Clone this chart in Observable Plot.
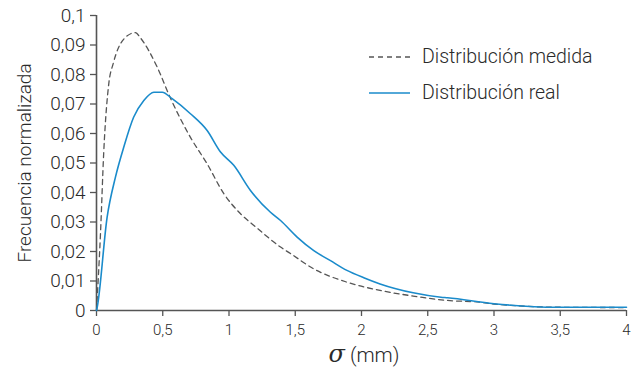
<!DOCTYPE html>
<html><head><meta charset="utf-8">
<script src="https://cdn.jsdelivr.net/npm/d3@7"></script>
<script src="https://cdn.jsdelivr.net/npm/@observablehq/plot@0.6"></script>
<style>
body{margin:0;background:#fff;}
#wrap{position:relative;width:632px;height:370px;font-family:Roboto,"Liberation Sans",sans-serif;}
#legend{position:absolute;left:368px;top:39px;font-size:19.5px;color:#2a2a2a;font-weight:300;line-height:36px;}
#legend div{display:flex;align-items:center;}
#legend svg{margin-right:12px;}
</style></head><body>
<div id="wrap"><div id="chart"></div>
<div id="legend">
<div><svg width="42" height="4"><line x1="1" y1="2" x2="42" y2="2" stroke="#555" stroke-width="1.3" stroke-dasharray="5,4"/></svg>Distribución medida</div>
<div><svg width="42" height="4"><line x1="1" y1="2" x2="42" y2="2" stroke="#1a8bcb" stroke-width="1.6"/></svg>Distribución real</div>
</div></div>
<script>
const measuredX = [0, 0.03, 0.055, 0.093, 0.126, 0.206, 0.294, 0.33, 0.458, 0.558, 0.709, 0.835, 0.961, 1.087, 1.21, 1.389, 1.464, 1.64, 1.89, 2.14, 2.39, 2.65, 2.9, 3.0, 3.5, 4.0];
const measuredY = [0, 0.026, 0.054, 0.077, 0.0837, 0.092, 0.0942, 0.0925, 0.0825, 0.072, 0.0587, 0.0497, 0.0396, 0.0328, 0.028, 0.0215, 0.0193, 0.0141, 0.0096, 0.0068, 0.0049, 0.0034, 0.0028, 0.0022, 0.0011, 0.001];
const realX = [0, 0.005, 0.08, 0.143, 0.206, 0.28, 0.357, 0.433, 0.496, 0.571, 0.709, 0.835, 0.936, 1.036, 1.162, 1.313, 1.389, 1.514, 1.64, 1.766, 1.89, 2.017, 2.14, 2.39, 2.6, 2.65, 3.0, 3.48, 4.0];
const realY = [0, 0.001, 0.0316, 0.0452, 0.0554, 0.0655, 0.0712, 0.074, 0.074, 0.0718, 0.0667, 0.061, 0.0537, 0.0492, 0.0407, 0.0333, 0.0305, 0.0249, 0.0203, 0.0169, 0.0136, 0.0111, 0.009, 0.006, 0.0045, 0.0043, 0.0023, 0.0011, 0.0011];
const xTicks = [0, 0.5, 1, 1.5, 2, 2.5, 3, 3.5, 4];
const yTicks = [0, 0.01, 0.02, 0.03, 0.04, 0.05, 0.06, 0.07, 0.08, 0.09, 0.1];
const yLabel = "Frecuencia normalizada";
const xLabelSymbol = "σ";
const xLabelUnit = " (mm)";

const measured = measuredX.map((x, i) => ({x, y: measuredY[i]}));
const real = realX.map((x, i) => ({x, y: realY[i]}));
const fmt = d => String(+d.toFixed(3)).replace(".", ",");
const axisColor = "#555";

const plot = Plot.plot({
  width: 632, height: 370,
  marginLeft: 96, marginRight: 6, marginTop: 15, marginBottom: 60,
  style: {fontFamily: "Roboto, 'Liberation Sans', sans-serif", fontSize: "15px", color: "#2a2a2a", fontWeight: 300},
  x: {domain: [0, 4]},
  y: {domain: [0, 0.1]},
  marks: [
    Plot.axisY({ticks: yTicks, tickFormat: fmt, tickSize: 6, tickPadding: 5, stroke: axisColor, strokeWidth: 1.3,
      label: yLabel, labelAnchor: "center", labelArrow: "none", labelOffset: 79, fontSize: 19}),
    Plot.axisX({ticks: xTicks, tickFormat: fmt, tickSize: 6, tickPadding: 8, stroke: axisColor, strokeWidth: 1.3, label: null}),
    Plot.ruleX([0], {stroke: axisColor, strokeWidth: 1.6}),
    Plot.ruleY([0], {stroke: axisColor, strokeWidth: 1.6}),
    Plot.line(measured, {x: "x", y: "y", stroke: "#555", strokeWidth: 1.3, strokeDasharray: "5,4", curve: "monotone-x"}),
    Plot.line(real, {x: "x", y: "y", stroke: "#1a8bcb", strokeWidth: 1.6, curve: "monotone-x"})
  ]
});
document.getElementById("chart").appendChild(plot);

const sx = plot.scale("x");
const t = d3.select(plot).append("text")
  .attr("x", sx.apply(2) + 3).attr("y", 362)
  .attr("text-anchor", "middle").attr("fill", "#2a2a2a").style("font-size", "20.5px").style("font-weight", 300);
t.append("tspan").text(xLabelSymbol).style("font-style", "italic").style("font-family", "'DejaVu Serif', serif").style("font-size", "24px");
t.append("tspan").text(xLabelUnit);
</script>
</body></html>
